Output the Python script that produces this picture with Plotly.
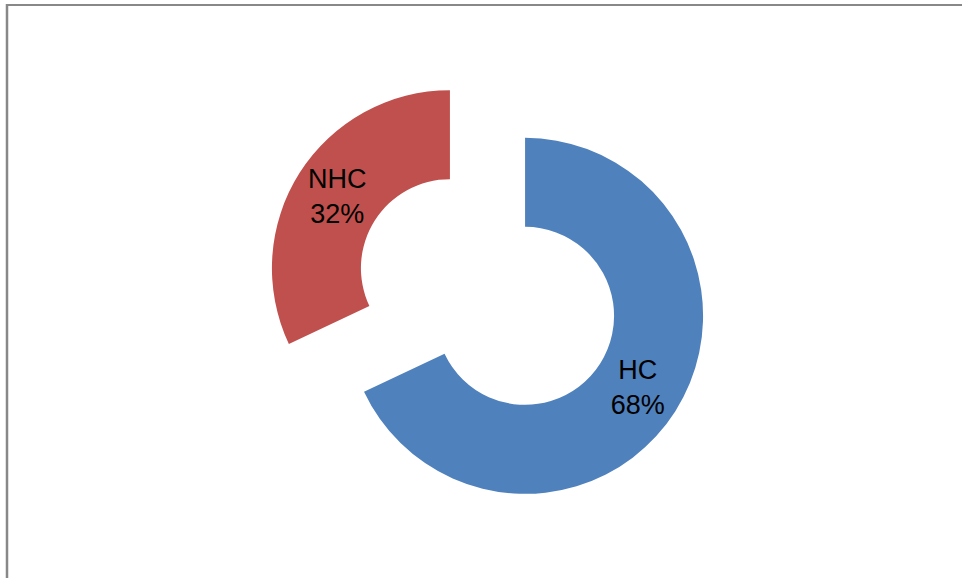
import plotly.graph_objects as go

labels = ["HC", "NHC"]
values = [68, 32]
colors = ["#4F81BD", "#C0504D"]

W, H = 962, 578

fig = go.Figure(go.Pie(
    labels=labels,
    values=values,
    hole=0.5,
    sort=False,
    direction="clockwise",
    rotation=0,
    pull=[0.25, 0.25],
    marker=dict(colors=colors, line=dict(width=0)),
    texttemplate="%{label}<br>%{percent:.0%}",
    textposition="inside",
    insidetextorientation="horizontal",
    textfont=dict(family="Liberation Sans, Arial, sans-serif", size=27, color="black"),
    domain=dict(x=[265 / W, 710 / W], y=[1 - 514.5 / H, 1 - 69.5 / H]),
    hoverinfo="label+percent",
))

fig.update_layout(
    width=W, height=H,
    margin=dict(l=0, r=0, t=0, b=0),
    paper_bgcolor="white",
    showlegend=False,
    uniformtext=dict(mode=False),
    shapes=[
        dict(type="line", xref="paper", yref="paper", x0=7 / W, x1=1.02, y0=1 - 5 / H, y1=1 - 5 / H,
             line=dict(color="#888888", width=2)),
        dict(type="line", xref="paper", yref="paper", x0=7 / W, x1=7 / W, y0=1 - 4 / H, y1=-0.02,
             line=dict(color="#888888", width=2.5)),
    ],
)

fig.write_html("out.html", config={"displayModeBar": False},
               post_script="document.body.style.margin='0';document.body.style.overflow='hidden';")
